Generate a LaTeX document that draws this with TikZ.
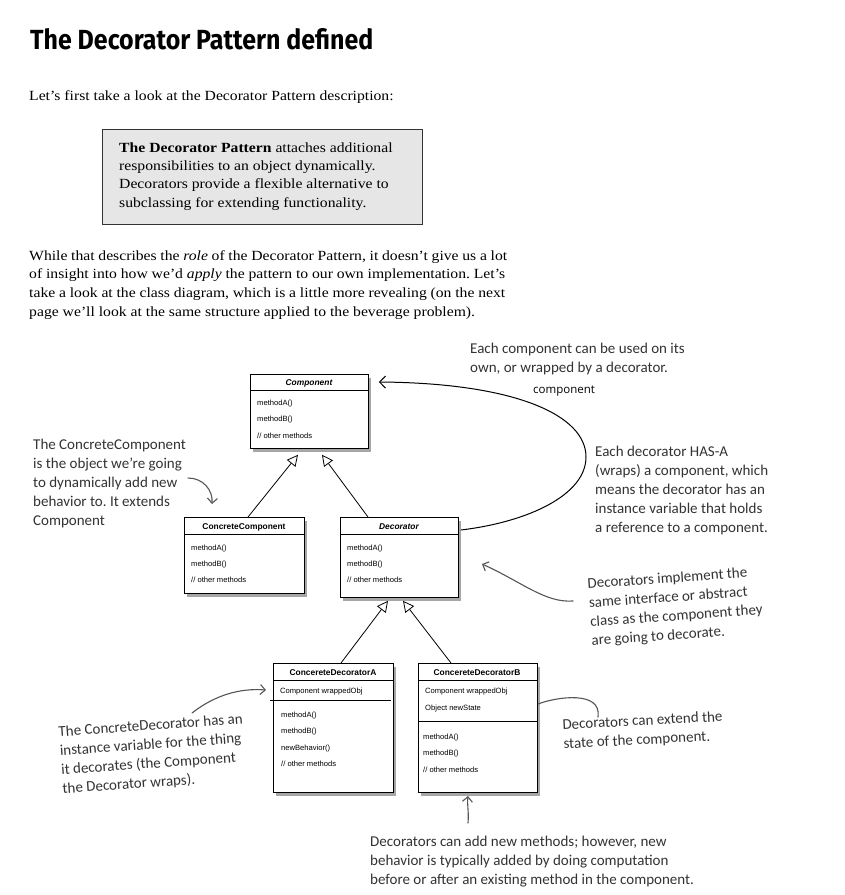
\documentclass[tikz,border=0pt]{standalone}
\usepackage{fontspec}
\setmainfont[FakeStretch=1.12]{Liberation Serif}
\newfontfamily\handf{Carlito}
\newfontfamily\umlf{Liberation Sans}
\newfontfamily\lblf{Open Sans}
\newfontfamily\titlef{Fira Sans}
\usetikzlibrary{arrows.meta,shadows,calc}
\definecolor{ink}{HTML}{333333}
\definecolor{pen}{HTML}{555555}
\definecolor{boxgray}{HTML}{E6E6E6}
\frenchspacing
\begin{document}
\begin{tikzpicture}[x=1pt,y=-1pt,
  cls/.style={draw=black, line width=0.8pt, fill=white, anchor=north west, inner sep=0pt,
    drop shadow={shadow xshift=3pt, shadow yshift=-3.5pt, fill=black, opacity=0.35}},
  sepline/.style={draw=black, line width=0.7pt},
  utxt/.style={font=\umlf\fontsize{7.6}{9}\selectfont, anchor=base west, inner sep=0pt},
  utitle/.style={font=\umlf\bfseries\fontsize{8.4}{10}\selectfont, anchor=base, inner sep=0pt},
  ititle/.style={font=\umlf\bfseries\itshape\fontsize{8.4}{10}\selectfont, anchor=base, inner sep=0pt},
  gen/.style={draw=black, line width=0.8pt, -{Triangle[open, length=11pt, width=11pt, line width=0.8pt]}},
  assoc/.style={draw=black, line width=1pt, -{Straight Barb[length=6pt, width=12pt, line width=1pt]}},
  body/.style={font=\fontsize{14}{19}\selectfont, anchor=base west, inner sep=0pt},
  hand/.style={font=\handf\fontsize{15}{19}\selectfont, text=ink, align=left, anchor=north west, inner sep=0pt},
  penline/.style={draw=pen, line width=1.1pt, line cap=round},
  penarrow/.style={penline, -{Straight Barb[length=5pt, width=10pt, line width=1.1pt]}}
]
\useasboundingbox (0,0) rectangle (845,895);
\fill[white] (0,0) rectangle (845,895);

% ---------- header text ----------
\node[anchor=base west, inner sep=0pt] (title) at (30,49)
  {\resizebox{343pt}{21pt}{\titlef\bfseries The Decorator Pattern defined}};
\node[body] (intro) at (29,100) {Let’s first take a look at the Decorator Pattern description:};

\node[draw=black!80, line width=1pt, fill=boxgray, anchor=north west, minimum width=320pt, minimum height=95pt, inner sep=0pt] (defbox) at (102,129) {};
\node[body] (d1) at (119,152) {\textbf{The Decorator Pattern} attaches additional};
\node[body] (d2) at (119,170) {responsibilities to an object dynamically.};
\node[body] (d3) at (119,188) {Decorators provide a flexible alternative to};
\node[body] (d4) at (119,207) {subclassing for extending functionality.};

\node[body] (p1) at (29,260) {\makebox[478pt][s]{While that describes the \textit{role} of the Decorator Pattern, it doesn’t give us a lot}};
\node[body] (p2) at (29,278) {\makebox[476pt][s]{of insight into how we’d \textit{apply} the pattern to our own implementation. Let’s}};
\node[body] (p3) at (29,297) {\makebox[476pt][s]{take a look at the class diagram, which is a little more revealing (on the next}};
\node[body] (p4) at (29,316) {page we’ll look at the same structure applied to the beverage problem).};

% ---------- Component ----------
\node[cls, minimum width=118pt, minimum height=74pt] (comp) at (250,374) {};
\draw[sepline] (250,390) -- (368,390);
\node[ititle] (compT) at (309,385) {Component};
\node[utxt] (compA) at (257,405) {methodA()};
\node[utxt] (compB) at (257,421) {methodB()};
\node[utxt] (compC) at (257,438) {// other methods};

% ---------- ConcreteComponent ----------
\node[cls, minimum width=120pt, minimum height=76pt] (cc) at (184,517) {};
\draw[sepline] (184,534) -- (304,534);
\node[utitle] (ccT) at (244,529) {ConcreteComponent};
\node[utxt] (ccA) at (191,550) {methodA()};
\node[utxt] (ccB) at (191,566) {methodB()};
\node[utxt] (ccC) at (191,582) {// other methods};

% ---------- Decorator ----------
\node[cls, minimum width=118pt, minimum height=80pt] (dec) at (340,517) {};
\draw[sepline] (340,534) -- (458,534);
\node[ititle] (decT) at (399,529) {Decorator};
\node[utxt] (decA) at (347,550) {methodA()};
\node[utxt] (decB) at (347,566) {methodB()};
\node[utxt] (decC) at (347,582) {// other methods};

% ---------- ConcereteDecoratorA ----------
\node[cls, minimum width=120pt, minimum height=129pt] (cda) at (273,663) {};
\draw[sepline] (273,680) -- (393,680);
\draw[sepline] (270,700) -- (391,700);
\node[utitle] (cdaT) at (333,675) {ConcereteDecoratorA};
\node[utxt] (cdaF) at (280,693) {Component wrappedObj};
\node[utxt] (cdaA) at (281,717) {methodA()};
\node[utxt] (cdaB) at (281,733) {methodB()};
\node[utxt] (cdaN) at (281,750) {newBehavior()};
\node[utxt] (cdaC) at (281,766) {// other methods};

% ---------- ConcereteDecoratorB ----------
\node[cls, minimum width=119pt, minimum height=129pt] (cdb) at (418,663) {};
\draw[sepline] (418,680) -- (537,680);
\draw[sepline] (418,721) -- (537,721);
\node[utitle] (cdbT) at (477,675) {ConcereteDecoratorB};
\node[utxt] (cdbF) at (425,693) {Component wrappedObj};
\node[utxt] (cdbS) at (425,710) {Object newState};
\node[utxt] (cdbA) at (423,739) {methodA()};
\node[utxt] (cdbB) at (423,755) {methodB()};
\node[utxt] (cdbC) at (423,772) {// other methods};

% ---------- generalizations ----------
\draw[gen] ($(cc.north west)+(64,0)$) -- ($(comp.south west)+(48,6)$);
\draw[gen] ($(dec.north west)+(28,0)$) -- ($(comp.south west)+(72,6)$);
\draw[gen] ($(cda.north west)+(68,0)$) -- ($(dec.south west)+(48,3)$);
\draw[gen] ($(cdb.north west)+(33,0)$) -- ($(dec.south west)+(63,3)$);

% ---------- association ----------
\draw[assoc] ($(dec.north east)+(2,13)$) .. controls (528,522) and (586,495) .. (586,457)
  .. controls (586,415) and (515,383) .. ($(comp.north east)+(10,8)$);
\node[font=\lblf\fontsize{11.5}{13}\selectfont, anchor=base west, inner sep=0pt] (complbl) at (533,393) {component};

% ---------- annotations ----------
\node[hand] (n1) at (470,343) {Each component can be used on its\\own, or wrapped by a decorator.};
\node[hand] (n2) at (595,446) {Each decorator HAS-A\\(wraps) a component, which\\means the decorator has an\\instance variable that holds\\a reference to a component.};
\node[hand] (n3) at (33,439) {The ConcreteComponent\\is the object we’re going\\to dynamically add new\\behavior to. It extends\\Component};
\node[hand, rotate=4] (n4) at (587,578) {Decorators implement the\\same interface or abstract\\class as the component they\\are going to decorate.};
\node[hand, rotate=4] (n5) at (58,726) {The ConcreteDecorator has an\\instance variable for the thing\\it decorates (the Component\\the Decorator wraps).};
\node[hand, rotate=3] (n6) at (562,719) {Decorators can extend the\\state of the component.};
\node[hand] (n7) at (370,836) {Decorators can add new methods; however, new\\behavior is typically added by doing computation\\before or after an existing method in the component.};

\coordinate (s3) at (188,478);
\coordinate (e3) at (212,504);
\draw[penarrow] (s3) .. controls (203,478) and (213,490) .. (e3);
\coordinate (s4) at (573,601);
\coordinate (e4) at (482,564);
\draw[penarrow] (s4) .. controls (545,603) and (522,582) .. (e4);
\coordinate (s5) at (192,713);
\coordinate (e5) at (266,690);
\draw[penarrow] (s5) .. controls (215,695) and (240,688) .. (e5);
\coordinate (s6) at (538,704);
\coordinate (e6) at (598,717);
\draw[penline] (s6) .. controls (556,697) and (602,690) .. (e6);
\coordinate (s7) at (468,823);
\coordinate (e7) at (468,796);
\draw[penarrow] (s7) .. controls (469,811) and (467,806) .. (e7);
\end{tikzpicture}
\end{document}
